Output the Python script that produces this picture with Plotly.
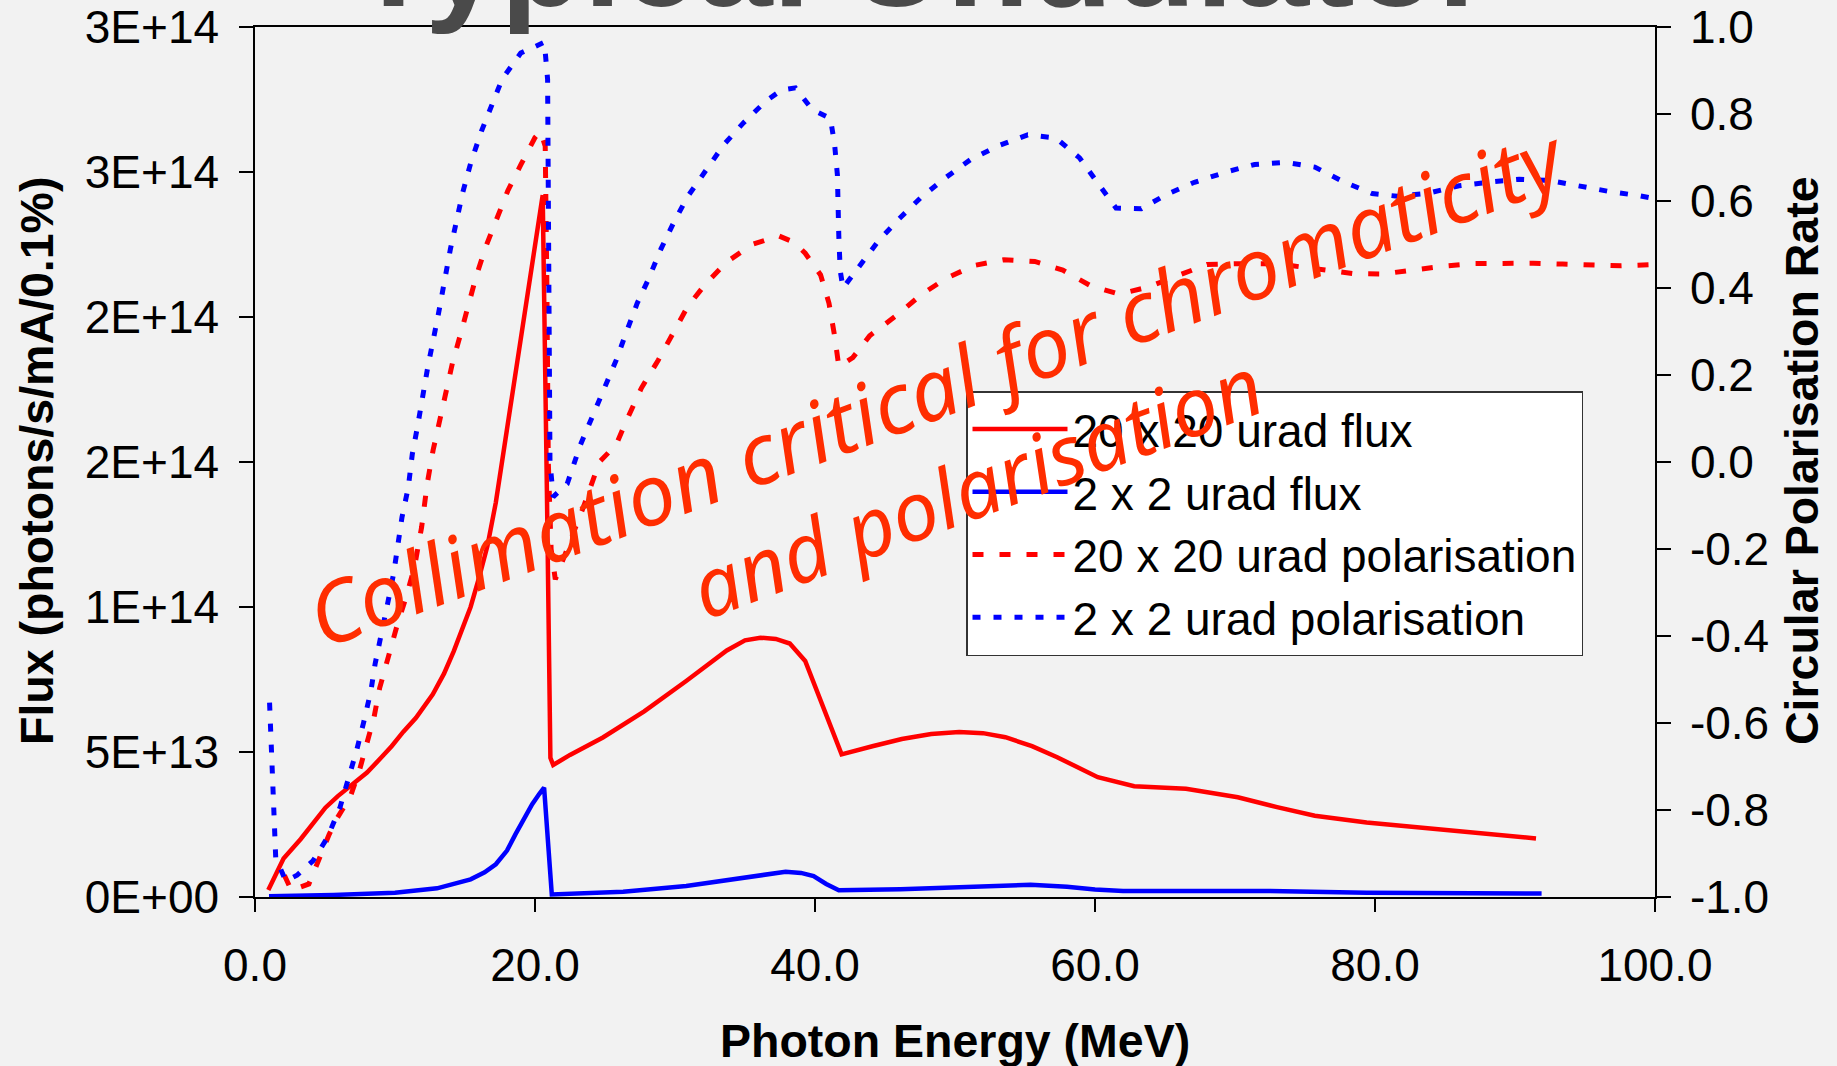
import plotly.graph_objects as go

# ---------------- data ----------------
# 20 x 20 urad flux  (energy MeV, flux in units of 1E13 photons/s/mA/0.1%)
flux20_E = [0.95, 1.3, 2.04, 3.27, 4.57, 5.03, 5.92, 7.0, 8.0, 9.0, 9.76, 10.6, 11.5, 12.7, 13.5,
            14.2, 14.8, 15.4, 16.0, 16.6, 17.2, 17.7, 18.3, 18.9, 19.4, 19.8, 20.2, 20.55,
            20.85, 21.1, 21.3, 22.5, 24.85, 27.8, 30.8, 33.7, 35.0, 36.1, 37.2, 38.2, 39.3,
            40.5, 41.9, 44.1, 46.2, 48.3, 50.3, 52.0, 53.6, 55.5, 57.3, 60.2, 62.8, 66.5,
            70.2, 73.0, 75.7, 79.4, 83.1, 86.7, 91.5]
flux20_V = [0.24, 0.6, 1.33, 2.0, 2.8, 3.08, 3.48, 3.9, 4.29, 4.8, 5.2, 5.7, 6.18, 6.99, 7.7,
            8.48, 9.2, 10.0, 11.0, 12.1, 13.6, 15.2, 17.1, 19.0, 20.6, 21.9, 23.1, 24.2,
            14.0, 4.8, 4.55, 4.9, 5.5, 6.4, 7.45, 8.5, 8.85, 8.94, 8.9, 8.74, 8.14,
            6.64, 4.92, 5.2, 5.45, 5.62, 5.69, 5.65, 5.51, 5.2, 4.82, 4.13, 3.82, 3.73,
            3.44, 3.1, 2.80, 2.57, 2.4, 2.23, 2.02]

# 2 x 2 urad flux
flux2_E = [1.0, 5.6, 10.0, 13.0, 15.4, 16.4, 17.2, 18.0, 18.6, 19.2, 19.8, 20.3, 20.65, 21.2,
           26.3, 30.8, 34.0, 36.0, 37.9, 39.0, 39.9, 40.8, 41.7, 46.1, 49.9, 53.0, 55.4,
           58.0, 60.0, 62.0, 72.0, 79.4, 91.9]
flux2_V = [0.03, 0.07, 0.15, 0.3, 0.61, 0.85, 1.13, 1.6, 2.16, 2.7, 3.2, 3.55, 3.77, 0.09,
           0.18, 0.38, 0.61, 0.75, 0.87, 0.83, 0.72, 0.45, 0.23, 0.27, 0.32, 0.38, 0.42,
           0.35, 0.26, 0.21, 0.21, 0.15, 0.12]

# 20 x 20 urad polarisation (circular polarisation rate)
pol20_E = [2.1, 2.6, 3.85, 4.6, 5.3, 5.9, 6.8, 7.45, 8.0, 8.5, 8.9, 9.5, 10.2, 10.8, 11.4,
           11.9, 12.3, 12.72, 13.22, 13.66, 14.1, 14.7, 15.3, 15.8, 16.5, 17.2, 18.05, 19.0,
           20.0, 20.4, 20.73, 20.85, 20.95, 21.15, 21.45, 22.3, 23.5, 24.6, 25.8, 26.6, 27.6,
           28.8, 29.9, 30.9, 32.2, 33.7, 35.5, 37.4, 38.5, 39.3, 40.4, 41.0, 41.4, 41.7,
           42.7, 43.9, 45.9, 47.6, 49.4, 51.4, 53.5, 55.7, 57.7, 59.7, 61.7, 63.8, 65.8,
           68.0, 70.0, 72.1, 74.1, 76.3, 78.5, 80.5, 82.7, 84.8, 87.0, 89.1, 91.3, 93.4,
           95.5, 97.6, 100.0]
pol20_V = [-0.95, -0.985, -0.97, -0.91, -0.856, -0.817, -0.77, -0.71, -0.65, -0.587, -0.52,
           -0.45, -0.37, -0.31, -0.24, -0.15, -0.05, 0.027, 0.096, 0.161, 0.227, 0.296, 0.365,
           0.427, 0.496, 0.557, 0.623, 0.684, 0.746, 0.76, 0.726, 0.4, 0.0, -0.2, -0.27, -0.2,
           -0.1, 0.0, 0.04, 0.10, 0.17, 0.234, 0.296, 0.357, 0.41, 0.46, 0.50, 0.52, 0.505,
           0.48, 0.43, 0.365, 0.29, 0.22, 0.24, 0.29, 0.339, 0.385, 0.423, 0.452, 0.465,
           0.461, 0.441, 0.405, 0.386, 0.402, 0.427, 0.454, 0.456, 0.456, 0.451, 0.441,
           0.433, 0.432, 0.442, 0.45, 0.456, 0.457, 0.457, 0.455, 0.452, 0.451, 0.454]

# 2 x 2 urad polarisation
pol2_E = [1.04, 1.24, 1.48, 2.2, 3.0, 4.14, 5.18, 6.07, 6.66, 7.25, 7.75, 8.28, 8.58, 9.1,
          9.47, 9.9, 10.2, 10.5, 10.95, 11.24, 11.6, 12.35, 13.1, 13.96, 14.84, 15.43, 16.17,
          16.9, 17.65, 18.98, 20.0, 20.67, 20.9, 20.95, 21.04, 21.07, 21.3, 22.3, 23.25, 24.9,
          25.8, 26.5, 27.3, 28.1, 29.0, 29.9, 30.9, 32.2, 33.5, 34.9, 36.5, 37.6, 38.6, 39.8,
          41.1, 41.4, 41.6, 41.7, 41.8, 42.0, 43.05, 44.5, 46.0, 47.6, 49.3, 51.1, 53.1, 55.2,
          57.2, 58.9, 60.2, 61.5, 63.3, 65.1, 67.1, 69.4, 71.4, 73.6, 75.7, 77.7, 79.8, 81.6,
          83.8, 86.0, 88.3, 90.3, 92.5, 94.5, 96.7, 98.9, 100.0]
pol2_V = [-0.553, -0.74, -0.91, -0.963, -0.95, -0.917, -0.863, -0.794, -0.733, -0.664, -0.6,
          -0.526, -0.464, -0.39, -0.326, -0.257, -0.19, -0.127, -0.058, 0.019, 0.08, 0.22,
          0.34, 0.49, 0.62, 0.69, 0.76, 0.82, 0.88, 0.94, 0.955, 0.965, 0.88, 0.69, 0.38, 0.0,
          -0.08, -0.05, 0.04, 0.165, 0.234, 0.296, 0.365, 0.42, 0.49, 0.55, 0.61, 0.67, 0.73,
          0.78, 0.83, 0.855, 0.86, 0.81, 0.79, 0.73, 0.66, 0.52, 0.44, 0.40, 0.446, 0.507,
          0.559, 0.609, 0.653, 0.695, 0.727, 0.752, 0.745, 0.699, 0.641, 0.584, 0.582, 0.615,
          0.643, 0.667, 0.684, 0.689, 0.678, 0.645, 0.617, 0.611, 0.618, 0.635, 0.644, 0.65,
          0.647, 0.635, 0.622, 0.612, 0.605]

FLUX_UNIT = 1e13

x_ticks = [0, 20, 40, 60, 80, 100]
x_ticktext = ["0.0", "20.0", "40.0", "60.0", "80.0", "100.0"]
yl_ticks = [0, 5e13, 1e14, 1.5e14, 2e14, 2.5e14, 3e14]
yl_ticktext = ["0E+00", "5E+13", "1E+14", "2E+14", "2E+14", "3E+14", "3E+14"]
yr_ticks = [-1.0, -0.8, -0.6, -0.4, -0.2, 0.0, 0.2, 0.4, 0.6, 0.8, 1.0]
yr_ticktext = ["-1.0", "-0.8", "-0.6", "-0.4", "-0.2", "0.0", "0.2", "0.4", "0.6", "0.8", "1.0"]

series_names = ["20 x 20 urad flux", "2 x 2 urad flux",
                "20 x 20 urad polarisation", "2 x 2 urad polarisation"]

# ---------------- figure ----------------
W, H = 1837, 1066
ML, MR, MT, MB = 255, 182, 27, 169
PW, PH = W - ML - MR, H - MT - MB

def px(xp):
    return (xp - ML) / PW

def py(yp):
    return (H - MB - yp) / PH

FONT = "Liberation Sans, Arial, sans-serif"
HAND = "Noto Sans, DejaVu Sans, sans-serif"
RED = "#ff0000"
BLUE = "#0000ff"
NOTE = "#ff2d00"

fig = go.Figure()
fig.add_trace(go.Scatter(x=flux20_E, y=[v * FLUX_UNIT for v in flux20_V], mode="lines",
                         name=series_names[0], legendgroup="a",
                         line=dict(color=RED, width=4.5)))
fig.add_trace(go.Scatter(x=flux2_E, y=[v * FLUX_UNIT for v in flux2_V], mode="lines",
                         name=series_names[1], legendgroup="b",
                         line=dict(color=BLUE, width=4.5)))
fig.add_trace(go.Scatter(x=pol20_E, y=pol20_V, mode="lines", yaxis="y2",
                         name=series_names[2], legendgroup="c",
                         line=dict(color=RED, width=5, dash="11px,16px")))
fig.add_trace(go.Scatter(x=pol2_E, y=pol2_V, mode="lines", yaxis="y2",
                         name=series_names[3], legendgroup="d",
                         line=dict(color=BLUE, width=5, dash="8px,13px")))

tickfont = dict(family=FONT, size=46, color="black")

fig.update_layout(
    width=W, height=H,
    margin=dict(l=ML, r=MR, t=MT, b=MB, pad=0, autoexpand=False),
    paper_bgcolor="#f2f2f2", plot_bgcolor="#f2f2f2",
    showlegend=True,
    legend=dict(x=px(966), y=py(391), xanchor="left", yanchor="top",
                bgcolor="white", bordercolor="#333333", borderwidth=1.5,
                font=dict(family=FONT, size=46, color="black"),
                itemwidth=95, tracegroupgap=0),
    xaxis=dict(range=[0, 100], tickvals=x_ticks, ticktext=x_ticktext,
               ticks="outside", ticklen=13, tickwidth=1.5, tickcolor="black",
               showline=True, linecolor="black", linewidth=1.5, mirror=True,
               showgrid=False, zeroline=False, tickfont=tickfont,
               ticklabelstandoff=14, automargin=False),
    yaxis=dict(range=[0, 3e14], tickvals=yl_ticks, ticktext=yl_ticktext,
               ticks="outside", ticklen=14, tickwidth=1.5, tickcolor="black",
               showline=True, linecolor="black", linewidth=1.5,
               showgrid=False, zeroline=False, tickfont=tickfont,
               ticklabelstandoff=11, automargin=False),
    yaxis2=dict(range=[-1, 1], tickvals=yr_ticks, ticktext=yr_ticktext,
                overlaying="y", side="right", anchor="x",
                ticks="outside", ticklen=14, tickwidth=1.5, tickcolor="black",
                showline=True, linecolor="black", linewidth=1.5,
                showgrid=False, zeroline=False, tickfont=tickfont,
                ticklabelstandoff=10, automargin=False),
    yaxis3=dict(range=[-1, 1], tickvals=yr_ticks, overlaying="y", side="right",
                anchor="x", ticks="inside", ticklen=14, tickwidth=1.5, tickcolor="black",
                showticklabels=False, showline=False, showgrid=False, zeroline=False,
                automargin=False),
)

annotations = [
    # slide title (cut off by the top edge, as in the reference)
    dict(text="<b>Typical Undulator</b>", x=px(921), y=py(37), xref="paper", yref="paper",
         xanchor="center", yanchor="bottom", showarrow=False,
         font=dict(family=FONT, size=136, color="#4a4a4a")),
    # axis titles
    dict(text="<b>Photon Energy (MeV)</b>", x=px(955), y=py(1041), xref="paper", yref="paper",
         xanchor="center", yanchor="middle", showarrow=False,
         font=dict(family=FONT, size=46.5, color="black")),
    dict(text="<b>Flux (photons/s/mA/0.1%)</b>", x=px(37), y=py(461), xref="paper", yref="paper",
         xanchor="center", yanchor="middle", showarrow=False, textangle=-90,
         font=dict(family=FONT, size=46.5, color="black")),
    dict(text="<b>Circular Polarisation Rate</b>", x=px(1802), y=py(461), xref="paper", yref="paper",
         xanchor="center", yanchor="middle", showarrow=False, textangle=-90,
         font=dict(family=FONT, size=46.5, color="black")),
    # handwritten note
    dict(text="Collimation critical for chromaticity", x=px(936), y=py(385),
         xref="paper", yref="paper", xanchor="center", yanchor="middle", showarrow=False,
         textangle=-20.5,
         font=dict(family=HAND, size=85, color=NOTE, style="italic")),
    dict(text="and polarisation", x=px(976), y=py(485),
         xref="paper", yref="paper", xanchor="center", yanchor="middle", showarrow=False,
         textangle=-20.5,
         font=dict(family=HAND, size=82, color=NOTE, style="italic")),
]
fig.update_layout(annotations=annotations)

fig.write_html("out.html", config={"displayModeBar": False},
               post_script="document.body.style.margin='0';document.body.style.overflow='hidden';")
